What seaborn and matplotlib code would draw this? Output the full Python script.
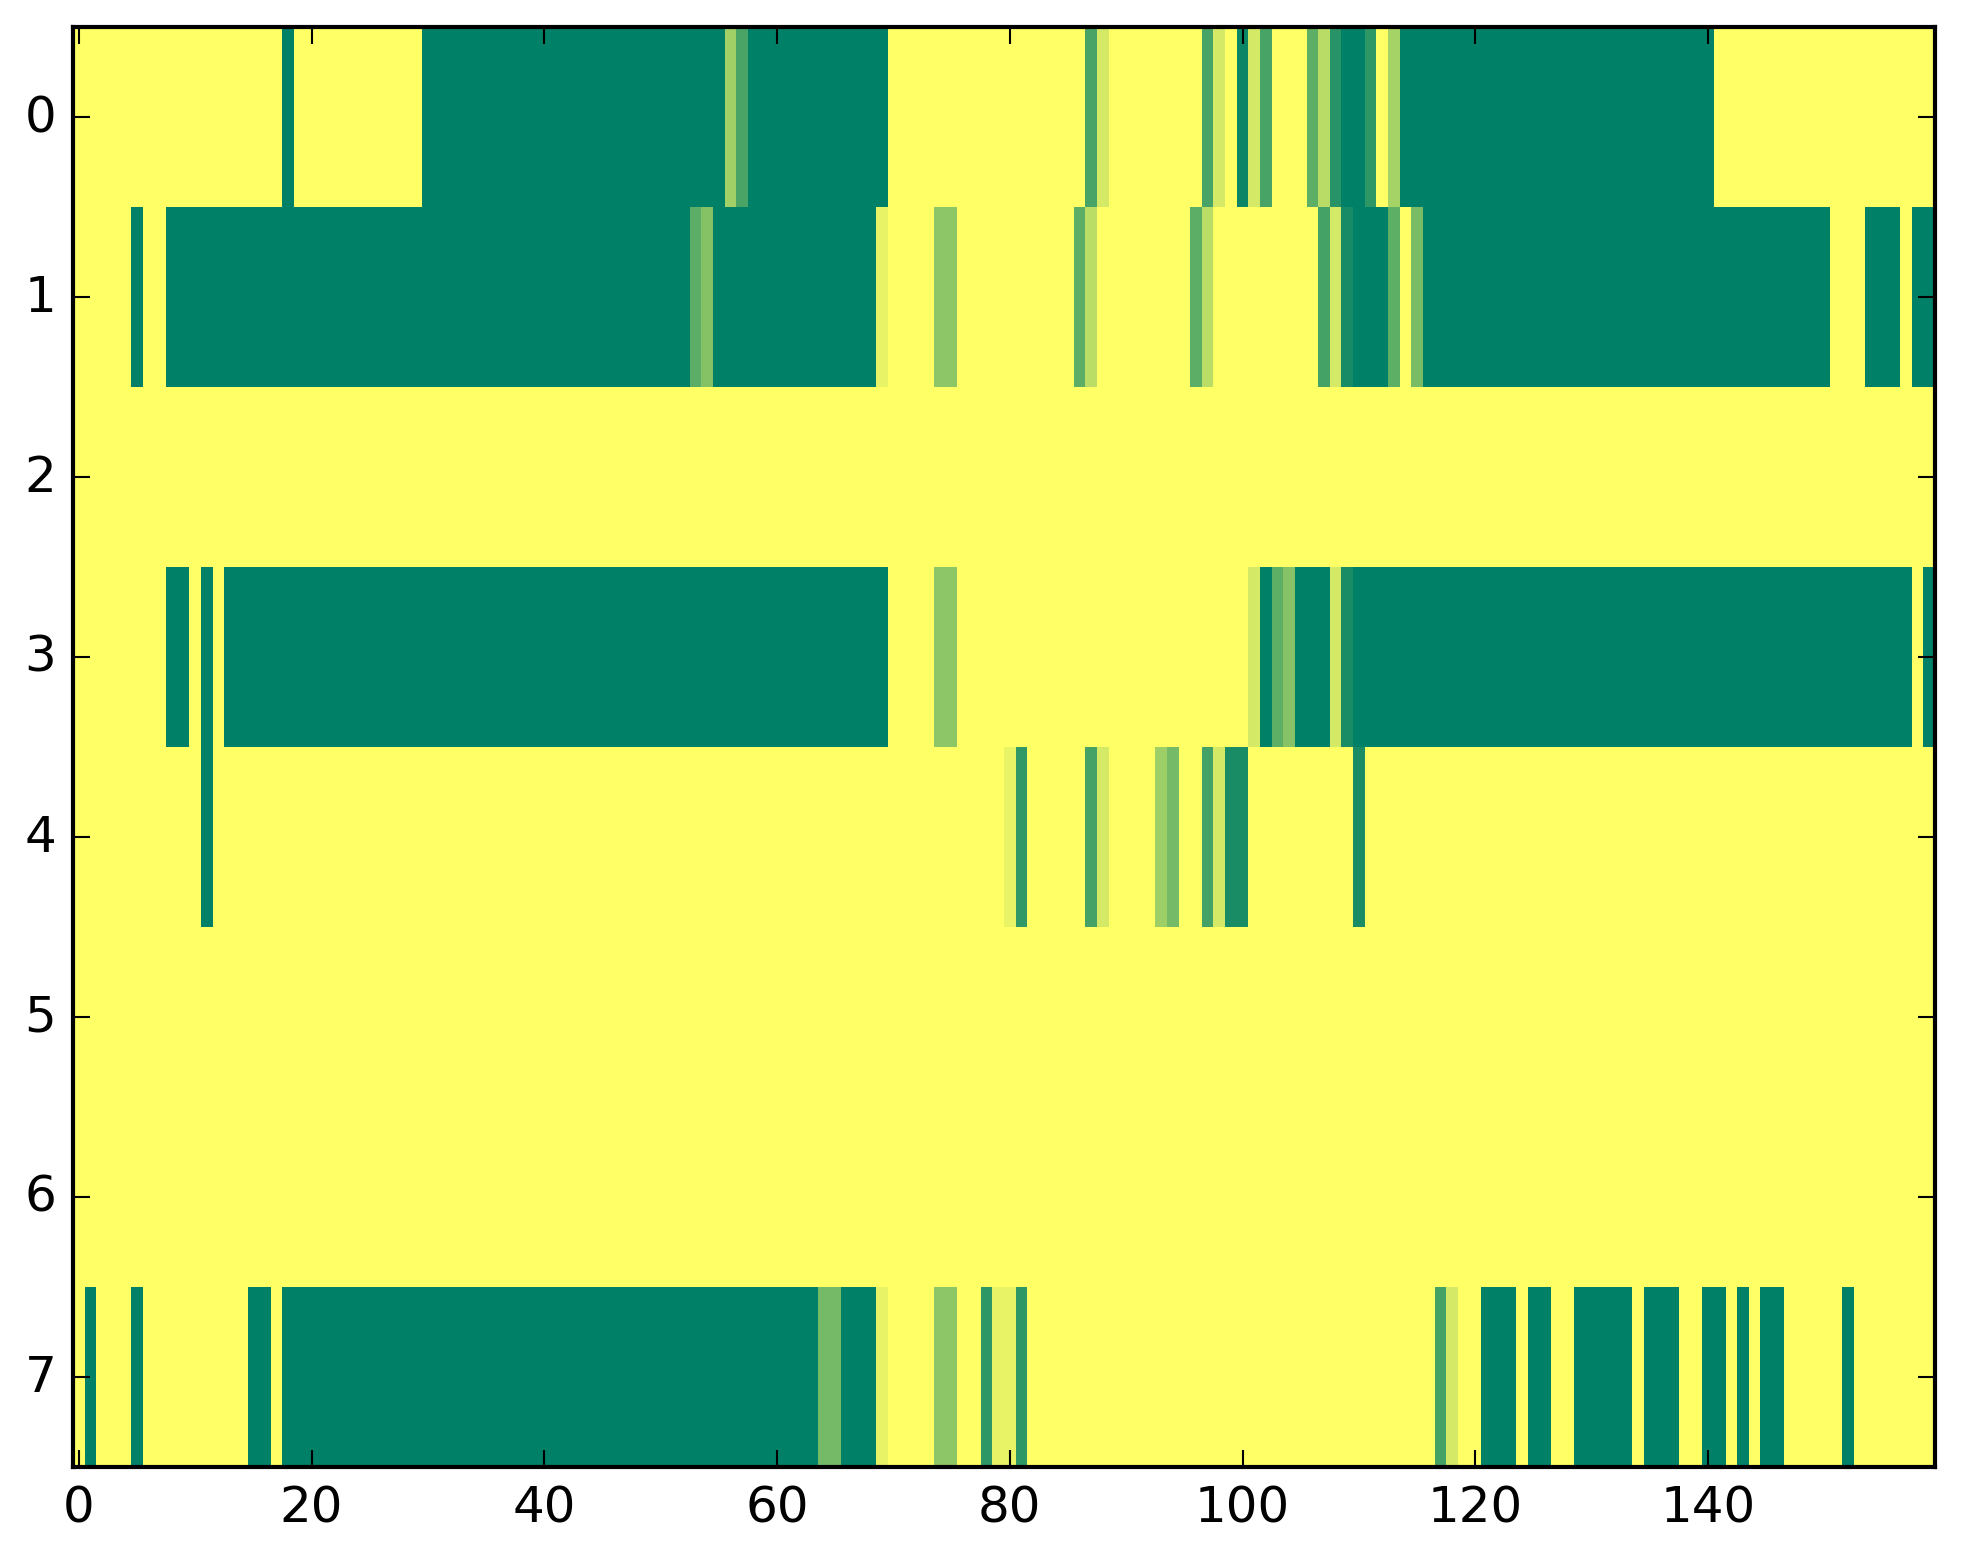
import numpy as np
import pandas as pd
import matplotlib
matplotlib.use("Agg")
import matplotlib.pyplot as plt
import seaborn as sns

# Each row is given as runs of (number of consecutive cells, value), read left to right.
row0_runs = [(18, 1.0), (1, 0.0), (11, 1.0), (26, 0.0), (1, 0.63), (1, 0.29), (12, 0.0),
             (17, 1.0), (1, 0.28), (1, 0.83), (8, 1.0), (1, 0.28), (1, 0.83), (1, 1.0),
             (1, 0.04), (1, 0.83), (1, 0.28), (3, 1.0), (1, 0.37), (1, 0.72), (1, 0.16),
             (2, 0.0), (1, 0.18), (1, 1.0), (1, 0.65), (27, 0.0), (19, 1.0)]
row1_runs = [(5, 1.0), (1, 0.0), (2, 1.0), (45, 0.0), (1, 0.36), (1, 0.52), (14, 0.0),
             (1, 0.91), (4, 1.0), (2, 0.55), (10, 1.0), (1, 0.36), (1, 0.73), (8, 1.0),
             (1, 0.36), (1, 0.73), (9, 1.0), (1, 0.27), (1, 0.83), (1, 0.09), (3, 0.0),
             (1, 0.37), (1, 1.0), (1, 0.47), (35, 0.0), (3, 1.0), (3, 0.0), (1, 1.0),
             (2, 0.0)]
row2_runs = [(160, 1.0)]
row3_runs = [(8, 1.0), (2, 0.0), (1, 1.0), (1, 0.0), (1, 1.0), (57, 0.0), (4, 1.0),
             (2, 0.55), (25, 1.0), (1, 0.83), (1, 0.0), (1, 0.37), (1, 0.53), (3, 0.0),
             (1, 0.83), (1, 0.10), (48, 0.0), (1, 1.0), (1, 0.0)]
row4_runs = [(11, 1.0), (1, 0.0), (68, 1.0), (1, 0.91), (1, 0.19), (5, 1.0), (1, 0.27),
             (1, 0.83), (4, 1.0), (1, 0.62), (1, 0.46), (2, 1.0), (1, 0.27), (1, 0.83),
             (2, 0.10), (9, 1.0), (1, 0.10), (49, 1.0)]
row5_runs = [(160, 1.0)]
row6_runs = [(160, 1.0)]
row7_runs = [(1, 1.0), (1, 0.0), (3, 1.0), (1, 0.0), (9, 1.0), (2, 0.0), (1, 1.0),
             (46, 0.0), (2, 0.46), (3, 0.0), (1, 0.91), (4, 1.0), (2, 0.55), (2, 1.0),
             (1, 0.18), (2, 0.91), (1, 0.18), (35, 1.0), (1, 0.27), (1, 0.83), (2, 1.0),
             (3, 0.0), (1, 1.0), (2, 0.0), (2, 1.0), (5, 0.0), (1, 1.0), (3, 0.0),
             (2, 1.0), (2, 0.0), (1, 1.0), (1, 0.0), (1, 1.0), (2, 0.0), (5, 1.0),
             (1, 0.0), (7, 1.0)]

row_labels = [0, 1, 2, 3, 4, 5, 6, 7]
x_tick_values = [0, 20, 40, 60, 80, 100, 120, 140]


def expand(runs):
    vals = []
    for count, v in runs:
        vals.extend([v] * count)
    return vals


rows = [row0_runs, row1_runs, row2_runs, row3_runs,
        row4_runs, row5_runs, row6_runs, row7_runs]
data = pd.DataFrame([expand(r) for r in rows], index=row_labels)

sns.set_style("white")
plt.rcParams["font.family"] = ["DejaVu Sans"]
plt.rcParams["axes.axisbelow"] = False

W, H, DPI = 1963, 1564, 300
fig = plt.figure(figsize=(W / DPI, H / DPI), dpi=DPI)
fig.patch.set_facecolor("white")
ax = fig.add_axes([73 / W, 1 - 1468 / H, (1935 - 73) / W, (1468 - 28) / H])

sns.heatmap(data, cmap="summer", vmin=0, vmax=1, cbar=False, ax=ax,
            xticklabels=False, yticklabels=False)
ax.set_axisbelow(False)

for s in ax.spines.values():
    s.set_visible(True)
    s.set_linewidth(1.0)
    s.set_color("black")
    s.set_zorder(5)

ax.set_xticks(np.array(x_tick_values) + 0.5)
ax.set_xticklabels([str(v) for v in x_tick_values], rotation=0)
ax.set_yticks(np.array(row_labels) + 0.5)
ax.set_yticklabels([str(v) for v in row_labels], rotation=0, va="center")
ax.tick_params(direction="in", top=True, right=True, bottom=True, left=True,
               length=4, width=0.5, labelsize=12, pad=4, color="black",
               labelcolor="black")
ax.set_xlabel("")
ax.set_ylabel("")

fig.savefig("out.png", dpi=DPI, facecolor="white")
